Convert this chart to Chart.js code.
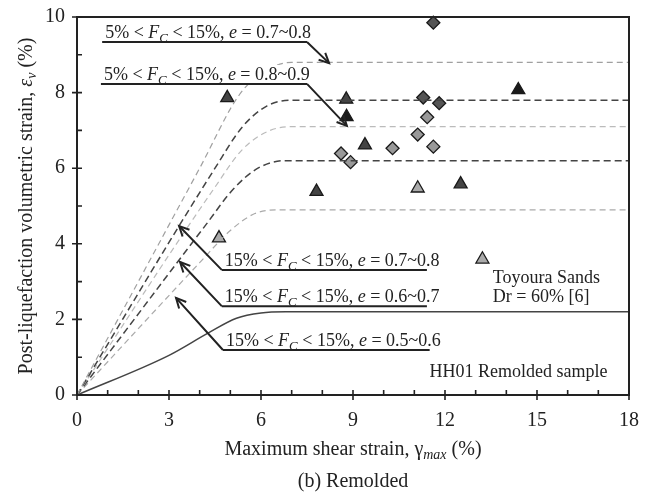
<!DOCTYPE html>
<html>
<head>
<meta charset="utf-8">
<script src="https://cdn.jsdelivr.net/npm/chart.js@4.4.1/dist/chart.umd.min.js"></script>
<style>
  html, body { margin: 0; padding: 0; background: #fff; }
  #wrap { width: 653px; height: 495px; position: relative; }
</style>
</head>
<body>
<div id="wrap"><canvas id="chart"></canvas></div>
<script>
// reference curves (gamma_max %, eps_v %)
const gammaA = [0, 4.0, 5.3, 6.2, 7.0, 18];
const evA = [0, 6.0, 7.95, 8.6, 8.8, 8.8];
const gammaB = [0, 4.5, 5.4, 6.2, 7.0, 18];
const evB = [0, 6.0, 7.1, 7.65, 7.8, 7.8];
const gammaC = [0, 4.5, 5.4, 6.3, 7.2, 18];
const evC = [0, 5.5, 6.5, 7.0, 7.1, 7.1];
const gammaD = [0, 4.2, 5.1, 5.9, 6.8, 18];
const evD = [0, 4.5, 5.45, 6.0, 6.2, 6.2];
const gammaE = [0, 4.0, 5.0, 5.8, 6.6, 18];
const evE = [0, 3.5, 4.35, 4.8, 4.9, 4.9];
const gammaF = [0, 3.0, 4.3, 5.2, 6.0, 6.8, 18];
const evF = [0, 1.05, 1.65, 2.03, 2.17, 2.2, 2.2];

// HH01 remolded sample
const darkDiamondX = [11.62, 11.29, 11.81];
const darkDiamondY = [9.85, 7.87, 7.72];
const greyDiamondX = [11.42, 11.11, 10.29, 11.62, 8.61, 8.92];
const greyDiamondY = [7.35, 6.89, 6.53, 6.57, 6.39, 6.16];
const blackTriX = [8.79, 14.39];
const blackTriY = [7.36, 8.07];
const darkTriX = [4.9, 8.78, 9.39, 7.81, 12.51];
const darkTriY = [7.86, 7.82, 6.61, 5.38, 5.58];
// Toyoura sands
const greyTriX = [4.63, 11.11, 13.22];
const greyTriY = [4.15, 5.47, 3.59];

const xTicks = [0, 3, 6, 9, 12, 15, 18];
const yTicks = [0, 2, 4, 6, 8, 10];

const FAM = '"Liberation Serif", "Times New Roman", serif';
const INK = '#222';

function pts(xs, ys) {
  return xs.map((x, i) => ({ x, y: ys[i] }));
}

function curve(xs, ys, color, width, dash) {
  return {
    data: pts(xs, ys),
    showLine: true,
    borderColor: color,
    borderWidth: width,
    borderDash: dash,
    pointRadius: 0,
    cubicInterpolationMode: 'monotone',
  };
}

function marks(xs, ys, style, fill, r) {
  return {
    data: pts(xs, ys),
    showLine: false,
    pointStyle: style,
    pointRadius: r,
    backgroundColor: fill,
    borderColor: '#1a1a1a',
    borderWidth: 1.3,
    clip: false,
  };
}

function fcLabel(lo, e) {
  return [
    { t: lo + '% < ' }, { t: 'F', it: true }, { t: 'C', it: true, sub: true },
    { t: ' < 15%, ' }, { t: 'e', it: true }, { t: ' = ' + e },
  ];
}

// label, underline (x0..x1 at y) and arrow tip, in data units
const notes = [
  { segs: fcLabel(5, '0.7~0.8'), x0: 0.82, x1: 7.5, y: 9.34, tx: 8.22, ty: 8.78, side: 'right' },
  { segs: fcLabel(5, '0.8~0.9'), x0: 0.78, x1: 7.5, y: 8.23, tx: 8.8, ty: 7.12, side: 'right' },
  { segs: fcLabel(15, '0.7~0.8'), x0: 4.72, x1: 11.41, y: 3.31, tx: 3.33, ty: 4.47, side: 'left' },
  { segs: fcLabel(15, '0.6~0.7'), x0: 4.72, x1: 11.41, y: 2.35, tx: 3.36, ty: 3.52, side: 'left' },
  { segs: fcLabel(15, '0.5~0.6'), x0: 4.76, x1: 11.5, y: 1.19, tx: 3.23, ty: 2.57, side: 'left' },
];

function richWidth(ctx, segs, size) {
  let w = 0;
  segs.forEach((s) => {
    ctx.font = (s.it ? 'italic ' : '') + (s.sub ? Math.round(size * 0.72) : size) + 'px ' + FAM;
    w += ctx.measureText(s.t).width;
  });
  return w;
}

function drawRich(ctx, segs, x, y, size, align) {
  const fontOf = (s) => (s.it ? 'italic ' : '') + (s.sub ? Math.round(size * 0.72) : size) + 'px ' + FAM;
  const w = richWidth(ctx, segs, size);
  let cx = align === 'center' ? x - w / 2 : align === 'right' ? x - w : x;
  segs.forEach((s) => {
    ctx.font = fontOf(s);
    ctx.fillText(s.t, cx, s.sub ? y + size * 0.22 : y);
    cx += ctx.measureText(s.t).width;
  });
}

const decor = {
  id: 'decor',
  afterDraw(chart) {
    const { ctx, chartArea: a, scales: { x, y } } = chart;
    ctx.save();
    ctx.fillStyle = INK;
    ctx.strokeStyle = INK;
    ctx.textBaseline = 'alphabetic';

    // frame
    ctx.lineWidth = 2;
    ctx.strokeRect(a.left, a.top, a.right - a.left, a.bottom - a.top);

    // ticks: major ones cross the axis, minor ones point inward
    ctx.lineWidth = 1.6;
    ctx.beginPath();
    for (let v = 0; v <= 18; v++) {
      const px = x.getPixelForValue(v);
      const major = xTicks.includes(v);
      ctx.moveTo(px, a.bottom + (major ? 5 : 0));
      ctx.lineTo(px, a.bottom - 5);
    }
    for (let v = 0; v <= 10; v++) {
      const py = y.getPixelForValue(v);
      const major = yTicks.includes(v);
      ctx.moveTo(a.left - (major ? 5 : 0), py);
      ctx.lineTo(a.left + 5, py);
    }
    ctx.stroke();

    // annotations with underline and arrow
    notes.forEach((n) => {
      const x0 = x.getPixelForValue(n.x0);
      const x1 = x.getPixelForValue(n.x1);
      const py = y.getPixelForValue(n.y);
      const tx = x.getPixelForValue(n.tx);
      const ty = y.getPixelForValue(n.ty);
      const sx = n.side === 'right' ? x1 : x0;
      const w = richWidth(ctx, n.segs, 18);
      ctx.fillStyle = '#fff';
      ctx.fillRect(x0 + 1, py - 19, w + 4, 17);
      ctx.fillStyle = INK;
      drawRich(ctx, n.segs, x0 + 3, py - 4, 18, 'left');
      ctx.lineWidth = 2;
      ctx.beginPath();
      ctx.moveTo(x0, py);
      ctx.lineTo(x1, py);
      ctx.moveTo(sx, py);
      ctx.lineTo(tx, ty);
      ctx.stroke();
      const ang = Math.atan2(ty - py, tx - sx);
      const L = 11;
      ctx.beginPath();
      ctx.moveTo(tx - L * Math.cos(ang - 0.45), ty - L * Math.sin(ang - 0.45));
      ctx.lineTo(tx, ty);
      ctx.lineTo(tx - L * Math.cos(ang + 0.45), ty - L * Math.sin(ang + 0.45));
      ctx.stroke();
    });

    // legend-like texts
    ctx.font = '18px ' + FAM;
    ctx.textAlign = 'left';
    ctx.fillText('Toyoura Sands', x.getPixelForValue(13.56), y.getPixelForValue(2.95));
    ctx.fillText('Dr = 60% [6]', x.getPixelForValue(13.56), y.getPixelForValue(2.45));
    ctx.textAlign = 'right';
    ctx.fillText('HH01 Remolded sample', x.getPixelForValue(17.3), y.getPixelForValue(0.48));
    ctx.textAlign = 'left';

    // axis titles and caption
    const midX = (a.left + a.right) / 2;
    drawRich(ctx, [
      { t: 'Maximum shear strain, γ' }, { t: 'max', it: true, sub: true }, { t: ' (%)' },
    ], midX, 455, 20, 'center');
    drawRich(ctx, [{ t: '(b) Remolded' }], midX, 487, 20, 'center');

    ctx.translate(32, (a.top + a.bottom) / 2);
    ctx.rotate(-Math.PI / 2);
    drawRich(ctx, [
      { t: 'Post-liquefaction volumetric strain, ' }, { t: 'ε', it: true },
      { t: 'v', it: true, sub: true }, { t: ' (%)' },
    ], 0, 0, 20, 'center');
    ctx.restore();
  },
};

new Chart(document.getElementById('chart'), {
  type: 'scatter',
  data: {
    datasets: [
      curve(gammaA, evA, '#a0a0a0', 1.2, [6, 4]),
      curve(gammaB, evB, '#444', 1.5, [7, 4]),
      curve(gammaC, evC, '#bbb', 1.2, [6, 4]),
      curve(gammaD, evD, '#444', 1.5, [7, 4]),
      curve(gammaE, evE, '#aaa', 1.2, [6, 4]),
      curve(gammaF, evF, '#444', 1.5, []),
      marks(greyDiamondX, greyDiamondY, 'rectRot', '#999', 6.5),
      marks(darkDiamondX, darkDiamondY, 'rectRot', '#555', 6.5),
      marks(darkTriX, darkTriY, 'triangle', '#444', 7.5),
      marks(blackTriX, blackTriY, 'triangle', '#1a1a1a', 7.5),
      marks(greyTriX, greyTriY, 'triangle', '#aaa', 7.5),
    ],
  },
  options: {
    responsive: true,
    maintainAspectRatio: false,
    animation: false,
    layout: { padding: { left: 0, right: 24, top: 17, bottom: 0 } },
    plugins: {
      legend: { display: false },
      tooltip: { enabled: false },
    },
    scales: {
      x: {
        type: 'linear',
        min: 0,
        max: 18,
        grid: { display: false },
        border: { display: false },
        afterFit: (s) => { s.height = 100; },
        ticks: {
          stepSize: 1,
          autoSkip: false,
          maxRotation: 0,
          padding: 6,
          color: INK,
          font: { family: FAM, size: 20 },
          callback: (v) => (xTicks.includes(v) ? v : ''),
        },
      },
      y: {
        type: 'linear',
        min: 0,
        max: 10,
        grid: { display: false },
        border: { display: false },
        afterFit: (s) => { s.width = 77; },
        ticks: {
          stepSize: 1,
          autoSkip: false,
          padding: 4,
          color: INK,
          font: { family: FAM, size: 20 },
          callback: (v) => (yTicks.includes(v) ? v : ''),
        },
      },
    },
  },
  plugins: [decor],
});
</script>
</body>
</html>
